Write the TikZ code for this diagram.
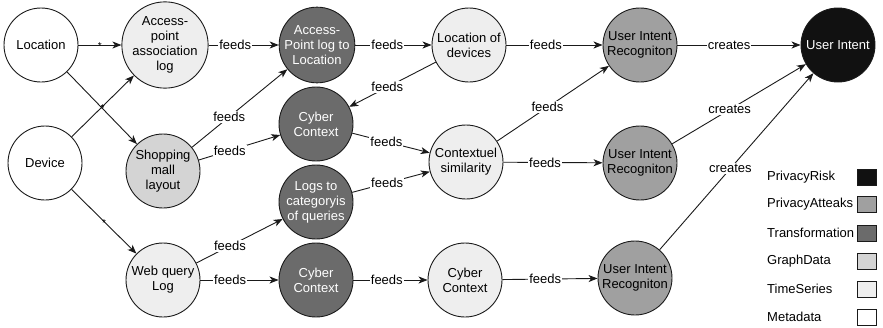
\documentclass[tikz,border=0pt]{standalone}
\usepackage{fontspec}
\setmainfont{Liberation Sans}
\usetikzlibrary{arrows.meta}
\definecolor{cRisk}{HTML}{111111}
\definecolor{cAttack}{HTML}{A0A0A0}
\definecolor{cTrans}{HTML}{6B6B6B}
\definecolor{cGraph}{HTML}{D4D4D4}
\definecolor{cTime}{HTML}{EEEEEE}
\definecolor{cMeta}{HTML}{FFFFFF}
\definecolor{cLine}{HTML}{1A1A1A}
\begin{document}
\begin{tikzpicture}[x=1pt,y=-1pt,
  base/.style={circle,draw=cLine,line width=0.9pt,minimum size=74pt,inner sep=0pt,align=center,font=\fontsize{13}{15}\selectfont},
  metanode/.style={base,fill=cMeta},
  timenode/.style={base,fill=cTime},
  graphnode/.style={base,fill=cGraph},
  transnode/.style={base,fill=cTrans,text=white},
  attacknode/.style={base,fill=cAttack},
  risknode/.style={base,fill=cRisk,text=white},
  rel/.style={draw=cLine,line width=0.9pt,-{Stealth[length=9pt,width=7pt,inset=2.5pt]}},
  lbl/.style={fill=white,inner sep=1pt,font=\fontsize{13}{15}\selectfont},
  star/.style={inner sep=0pt,yshift=-1.5pt,font=\fontsize{10}{10}\selectfont},
  legtext/.style={anchor=west,inner sep=0pt,font=\fontsize{13}{15}\selectfont},
  legbox/.style={draw=cLine,line width=0.8pt,minimum width=19pt,minimum height=16pt,inner sep=0pt}
]
\useasboundingbox (0,0) rectangle (883,327);

% source data
\node[metanode] (loc) at (41,45) {Location};
\node[metanode] (dev) at (45,163) {Device};

% collected logs and layouts
\node[timenode]  (aplog) at (165,45)  {Access-\\point\\association\\log};
\node[graphnode] (mall)  at (163,171) {Shopping\\mall\\layout};
\node[timenode]  (web)   at (163,280) {Web query\\Log};

% transformations
\node[transnode] (aploc)  at (317,45)  {Access-\\Point log to\\Location};
\node[transnode] (cyberA) at (316,124) {Cyber\\Context};
\node[transnode] (logcat) at (316,202) {Logs to\\categoryis\\of queries};
\node[transnode] (cyberB) at (316,280) {Cyber\\Context};

% derived series
\node[timenode] (locdev) at (469,45)  {Location of\\devices};
\node[timenode] (ctxsim) at (466,162) {Contextuel\\similarity};
\node[timenode] (cyberC) at (465,280) {Cyber\\Context};

% attacks
\node[attacknode] (uirA) at (640,45)  {User Intent\\Recogniton};
\node[attacknode] (uirB) at (640,163) {User Intent\\Recogniton};
\node[attacknode] (uirC) at (635,278) {User Intent\\Recogniton};

% risk
\node[risknode] (intent) at (838,45) {User Intent};

% relations
\draw[rel] (loc) -- node[star]{*} (aplog);
\draw[rel] (loc) -- node[star]{*} (mall);
\draw[rel] (dev) -- node[star]{*} (aplog);
\draw[rel] (dev) -- node[star]{*} (web);

\draw[rel] (aplog) -- node[lbl,pos=0.38]{feeds} (aploc);
\draw[rel] (mall) -- node[lbl,pos=0.39]{feeds} (aploc);
\draw[rel] (mall) -- node[lbl,pos=0.38]{feeds} (cyberA);
\draw[rel] (web) -- node[lbl,pos=0.39]{feeds} (logcat);
\draw[rel] (web) -- node[lbl,pos=0.38]{feeds} (cyberB);

\draw[rel] (aploc) -- node[lbl,pos=0.42]{feeds} (locdev);
\draw[rel] (locdev) -- node[lbl,pos=0.56]{feeds} (cyberA);
\draw[rel] (cyberA) -- node[lbl,pos=0.44]{feeds} (ctxsim);
\draw[rel] (logcat) -- node[lbl,pos=0.45]{feeds} (ctxsim);
\draw[rel] (cyberB) -- node[lbl,pos=0.45]{feeds} (cyberC);

\draw[rel] (locdev) -- node[lbl,pos=0.41]{feeds} (uirA);
\draw[rel] (ctxsim) -- node[lbl,pos=0.45]{feeds} (uirA);
\draw[rel] (ctxsim) -- node[lbl,pos=0.42]{feeds} (uirB);
\draw[rel] (cyberC) -- node[lbl,pos=0.45]{feeds} (uirC);

\draw[rel] (uirA) -- node[lbl,pos=0.42]{creates} (intent);
\draw[rel] (uirB) -- node[lbl,pos=0.43]{creates} (intent);
\draw[rel] (uirC) -- node[lbl,pos=0.46]{creates} (intent);

% legend
\node[legtext] (lgA) at (767,177) {PrivacyRisk};
\node[legtext] (lgB) at (767,204) {PrivacyAtteaks};
\node[legtext] (lgC) at (767,233) {Transformation};
\node[legtext] (lgD) at (767,261) {GraphData};
\node[legtext] (lgE) at (767,289) {TimeSeries};
\node[legtext] (lgF) at (767,317) {Metadata};
\node[legbox,fill=cRisk]   (bxA) at (866.5,177) {};
\node[legbox,fill=cAttack] (bxB) at (866.5,204) {};
\node[legbox,fill=cTrans]  (bxC) at (866.5,233) {};
\node[legbox,fill=cGraph]  (bxD) at (866.5,261) {};
\node[legbox,fill=cTime]   (bxE) at (866.5,289) {};
\node[legbox,fill=cMeta]   (bxF) at (866.5,317) {};
\end{tikzpicture}
\end{document}
